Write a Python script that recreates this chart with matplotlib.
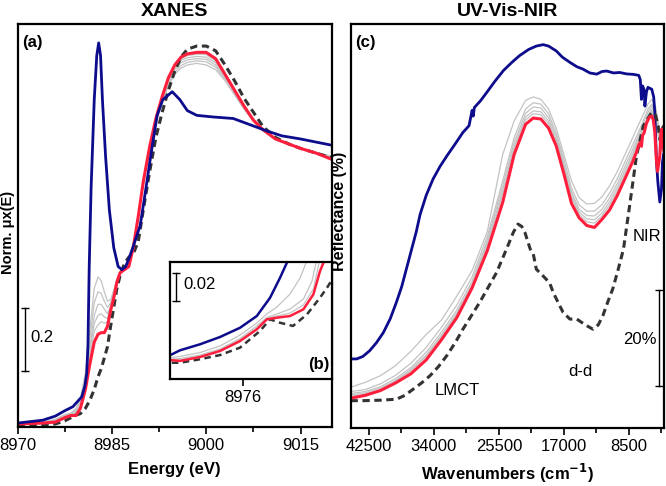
import matplotlib
matplotlib.use("Agg")
import matplotlib.pyplot as plt
from matplotlib.ticker import FixedLocator

plt.rcParams["font.family"] = ["Liberation Sans", "DejaVu Sans"]

BLUE = "#0c0c8c"
RED = "#ff1f3d"
GRAY = "#c3c3c3"
DARK = "#333333"

# ---- XANES, panel (a) ----
energy_blue = [8970, 8974, 8976, 8977.5, 8978.8, 8980.2, 8980.7, 8981.0, 8981.2,
               8981.4, 8981.7, 8982.2, 8982.6, 8982.9, 8983.2, 8983.5, 8984.0,
               8984.6, 8985.3, 8986.0, 8986.6, 8987.2, 8987.8, 8988.5, 8989.5,
               8990.2, 8991.4, 8992.2, 8993.1, 8994.6, 8995.8, 8997.0, 8998.5,
               9001, 9004.3, 9007, 9009.7, 9012, 9015, 9020]
mu_blue = [0.003, 0.012, 0.025, 0.042, 0.055, 0.086, 0.12, 0.16, 0.25,
           0.5, 0.75, 1.03, 1.17, 1.21, 1.17, 1.03, 0.85,
           0.68, 0.56, 0.50, 0.49, 0.50, 0.53, 0.57, 0.63,
           0.72, 0.88, 0.98, 1.03, 1.055, 1.03, 0.995, 0.98,
           0.975, 0.97, 0.95, 0.93, 0.915, 0.905, 0.885]

energy = [8970, 8974, 8976, 8977.5, 8978.5, 8979.3, 8980, 8980.8, 8981.5, 8982.2,
          8982.8, 8983.3, 8983.8, 8984.3, 8984.8, 8985.3, 8985.8, 8986.3, 8987,
          8987.7, 8988.4, 8989.2, 8990, 8991, 8992, 8993, 8994, 8995, 8996, 8997,
          8998.5, 9000, 9001.5, 9003, 9004.5, 9006, 9007.5, 9009, 9011, 9013,
          9015, 9017.5, 9020]
mu_red = [0.0, 0.003, 0.006, 0.02, 0.027, 0.027, 0.05, 0.11, 0.19, 0.26,
          0.285, 0.29, 0.29, 0.31, 0.36, 0.40, 0.45, 0.48, 0.49,
          0.50, 0.56, 0.66, 0.77, 0.88, 0.97, 1.04, 1.10, 1.14, 1.165, 1.175,
          1.18, 1.18, 1.16, 1.11, 1.06, 1.01, 0.965, 0.935, 0.905, 0.89,
          0.875, 0.86, 0.84]
mu_dashed = [-0.004, -0.003, 0.0, 0.01, 0.02, 0.028, 0.033, 0.05, 0.075, 0.11,
             0.15, 0.175, 0.21, 0.245, 0.31, 0.37, 0.43, 0.47, 0.51,
             0.53, 0.54, 0.58, 0.68, 0.80, 0.91, 0.99, 1.06, 1.12, 1.165, 1.19,
             1.2, 1.2, 1.185, 1.14, 1.09, 1.035, 0.99, 0.945, 0.91, 0.89,
             0.875, 0.86, 0.845]
mu_gray1 = [0.001, 0.006, 0.015, 0.03, 0.035, 0.05, 0.08, 0.165, 0.30, 0.43,
            0.467, 0.455, 0.42, 0.39, 0.395, 0.425, 0.46, 0.485, 0.50,
            0.515, 0.56, 0.655, 0.76, 0.87, 0.955, 1.02, 1.075, 1.11, 1.13, 1.14,
            1.145, 1.14, 1.125, 1.09, 1.045, 1.0, 0.96, 0.93, 0.905, 0.89,
            0.875, 0.862, 0.85]
mu_gray2 = [0.001, 0.005, 0.013, 0.028, 0.033, 0.045, 0.07, 0.15, 0.27, 0.385,
            0.42, 0.415, 0.39, 0.37, 0.385, 0.42, 0.457, 0.483, 0.497,
            0.51, 0.56, 0.657, 0.763, 0.873, 0.96, 1.025, 1.08, 1.117, 1.138, 1.148,
            1.153, 1.15, 1.133, 1.095, 1.05, 1.003, 0.962, 0.932, 0.905, 0.89,
            0.875, 0.861, 0.848]
mu_gray3 = [0.001, 0.005, 0.012, 0.026, 0.031, 0.04, 0.06, 0.135, 0.245, 0.345,
            0.38, 0.38, 0.365, 0.35, 0.375, 0.415, 0.455, 0.482, 0.495,
            0.507, 0.56, 0.658, 0.765, 0.875, 0.963, 1.03, 1.088, 1.125, 1.147, 1.156,
            1.16, 1.158, 1.14, 1.1, 1.053, 1.005, 0.963, 0.933, 0.905, 0.89,
            0.875, 0.86, 0.846]
mu_gray4 = [0.0, 0.004, 0.011, 0.024, 0.03, 0.035, 0.055, 0.13, 0.23, 0.32,
            0.345, 0.35, 0.34, 0.335, 0.37, 0.41, 0.455, 0.481, 0.493,
            0.504, 0.56, 0.659, 0.767, 0.877, 0.966, 1.034, 1.093, 1.132, 1.155, 1.163,
            1.167, 1.165, 1.147, 1.104, 1.056, 1.007, 0.964, 0.934, 0.905, 0.89,
            0.875, 0.86, 0.844]
mu_gray5 = [0.0, 0.004, 0.01, 0.022, 0.029, 0.032, 0.05, 0.12, 0.21, 0.295,
            0.315, 0.325, 0.32, 0.325, 0.365, 0.405, 0.452, 0.48, 0.492,
            0.502, 0.56, 0.66, 0.768, 0.878, 0.968, 1.037, 1.097, 1.137, 1.16, 1.17,
            1.174, 1.173, 1.153, 1.108, 1.058, 1.008, 0.965, 0.934, 0.905, 0.89,
            0.875, 0.86, 0.842]

# ---- inset (b), pre-edge zoom ----
inset_e_blue = [8972.44, 8972.85, 8973.85, 8974.85, 8975.85, 8976.69, 8977.35, 8977.85, 8978.19, 8978.4]
inset_blue = [0.0176, 0.0205, 0.0248, 0.0300, 0.0366, 0.045, 0.058, 0.0723, 0.083, 0.09]
inset_e_red = [8972.44, 8972.85, 8973.85, 8974.85, 8975.85, 8976.69, 8977.19, 8977.69,
               8978.35, 8979.02, 8979.52, 8979.85, 8980.02, 8980.2]
inset_red = [0.0134, 0.0129, 0.0157, 0.02, 0.0271, 0.0355, 0.0426, 0.0438,
             0.045, 0.0498, 0.0605, 0.0771, 0.083, 0.09]
inset_e_dashed = [8972.44, 8972.85, 8973.85, 8974.85, 8975.85, 8976.85, 8977.35, 8977.85,
                  8978.5, 8979.2, 8979.85, 8980.2, 8980.5]
inset_dashed = [0.0116, 0.0116, 0.0141, 0.0171, 0.0224, 0.0343, 0.0426, 0.0402,
                0.0379, 0.0462, 0.0581, 0.0652, 0.072]
inset_e_gray1 = [8972.44, 8972.85, 8973.85, 8974.85, 8975.85, 8976.69, 8977.19, 8977.69,
                 8978.35, 8978.85, 8979.15, 8979.3]
inset_gray1 = [0.0154, 0.0161, 0.0189, 0.0236, 0.0314, 0.04, 0.0464, 0.0514,
               0.0607, 0.0721, 0.0829, 0.09]
inset_e_gray2 = [8972.44, 8972.85, 8973.85, 8974.85, 8975.85, 8976.69, 8977.19, 8977.69,
                 8978.35, 8979.02, 8979.45, 8979.65, 8979.8]
inset_gray2 = [0.0143, 0.0146, 0.0171, 0.0214, 0.0289, 0.0379, 0.0439, 0.0464,
               0.05, 0.0571, 0.07, 0.0829, 0.09]
inset_e_gray3 = [8972.44, 8972.85, 8973.85, 8974.85, 8975.85, 8976.69, 8977.19, 8977.69,
                 8978.35, 8979.02, 8979.52, 8979.8, 8979.95]
inset_gray3 = [0.0137, 0.0136, 0.0164, 0.0207, 0.0279, 0.0364, 0.0432, 0.045,
               0.0471, 0.0529, 0.0643, 0.0829, 0.09]

# ---- UV-Vis-NIR, panel (c) ----
wn_blue = [44900, 44100, 43300, 42400, 41500, 40600, 39700, 38900, 38200, 37600,
           36900, 36300, 35800, 35000, 34100, 33200, 32300, 31300, 30200, 29400,
           29000, 28850, 28700, 27900, 27100, 26000, 24900, 23800, 22800, 21600,
           20600, 19700, 19000, 18000, 17200, 16200, 15300, 14500, 13600, 12700,
           12000, 11400, 10500, 9700, 8800, 7900, 7200, 7000, 6850, 6700,
           6500, 6400, 6200, 6000, 5500, 5250, 5100, 4880, 4700, 4450,
           4230, 4100, 3950]
r_blue = [14.4, 14.4, 14.9, 16.1, 17.8, 19.9, 22.8, 26.2, 29.5, 33.1,
          37.3, 40.9, 44.5, 48.5, 51.9, 54.5, 56.7, 59.0, 61.6, 63.0,
          66.2, 65.0, 66.8, 68.2, 69.9, 72.3, 74.5, 76.2, 77.6, 78.9,
          79.6, 79.9, 79.6, 78.6, 77.3, 76.2, 75.3, 74.8, 74.0, 73.75,
          74.3, 74.4, 74.0, 74.1, 73.8, 73.7, 73.5, 72.6, 68.5, 71.3,
          70.5, 67.1, 70.0, 71.0, 70.6, 69.0, 65.8, 55.4, 51.2, 47.1,
          49.8, 55.4, 57.0]
wn_red = [44900, 43000, 41000, 39000, 37000, 35000, 33000, 31000, 29000, 27000,
          25000, 23500, 22000, 21000, 20000, 19000, 18000, 17000, 16000, 15000,
          14000, 13000, 12000, 11000, 10000, 9000, 8000, 7500, 7200, 7000,
          6850, 6700, 6500, 6200, 5800, 5500, 5300, 5100, 4900, 4750,
          4600, 4450, 4300, 4200, 4100, 3950]
r_red = [6.2, 6.8, 7.8, 9.4, 11.3, 14.2, 18.4, 23.0, 29.2, 37.0,
         47.0, 57.0, 63.3, 64.6, 64.4, 62.5, 58.8, 53.0, 46.8, 43.8,
         42.2, 41.8, 43.5, 45.5, 48.5, 52.0, 55.5, 57.5, 59.0, 59.5,
         58.7, 61.0, 61.5, 63.5, 64.8, 65.0, 64.2, 61.6, 56.0, 53.5,
         55.0, 56.7, 61.5, 62.3, 59.6, 58.0]
wn_dashed = [44900, 43200, 41000, 38900, 37800, 36700, 35600, 34500, 33400, 32300,
             31200, 30200, 29100, 28000, 26900, 25800, 24500, 23600, 23000, 22500,
             22100, 21400, 21000, 20600, 19900, 19300, 18800, 18400, 17700, 17100,
             16200, 15300, 14200, 13200, 12500, 11900, 11200, 10600, 9900, 9200,
             8400, 7500, 6600, 5500, 5000, 4670, 4400, 4200, 3950]
r_dashed = [5.7, 5.7, 5.8, 6.0, 6.8, 8.1, 9.4, 10.9, 12.8, 15.1,
            17.8, 20.6, 23.4, 26.2, 29.3, 32.4, 37.3, 40.8, 42.5, 42.0,
            40.8, 37.3, 36.3, 33.1, 32.0, 31.0, 30.0, 28.3, 26.0, 24.1,
            22.7, 22.7, 21.5, 20.6, 21.5, 23.4, 26.5, 29.0, 33.0, 37.3,
            46.3, 56.7, 63.0, 65.8, 65.2, 63.0, 60.0, 62.0, 63.0]
wn_gray = [44900, 43000, 41000, 39000, 37000, 35000, 33000, 31000, 29000, 27000,
           25000, 23500, 22000, 21000, 20000, 19000, 18000, 17000, 16000, 15000,
           14000, 13000, 12000, 11000, 10000, 9000, 8000, 7000, 6000, 5500,
           5000, 4500, 4000]
r_gray1 = [8.5, 9.5, 10.9, 13.0, 16.0, 19.5, 22.5, 27.5, 32.8, 41.0,
           57.0, 64.0, 68.3, 69.0, 68.5, 66.5, 62.5, 57.0, 51.5, 48.0,
           46.7, 46.8, 48.2, 50.5, 53.5, 57.0, 60.5, 64.0, 67.5, 68.5,
           67.0, 62.0, 58.0]
r_gray2 = [7.6, 8.0, 9.2, 11.0, 13.5, 16.8, 21.0, 25.6, 31.5, 40.0,
           51.5, 60.5, 66.5, 67.8, 67.5, 65.5, 61.5, 56.0, 50.0, 46.5,
           45.2, 45.2, 46.6, 49.0, 52.0, 55.5, 59.0, 62.5, 66.5, 67.5,
           66.0, 61.0, 57.5]
r_gray3 = [7.2, 7.6, 8.6, 10.3, 12.6, 15.8, 20.0, 24.6, 30.6, 39.2,
           50.5, 59.5, 65.6, 66.9, 66.7, 64.7, 60.8, 55.2, 49.2, 45.6,
           44.3, 44.2, 45.6, 48.0, 51.0, 54.5, 58.0, 61.8, 65.8, 67.0,
           65.2, 60.5, 57.0]
r_gray4 = [6.9, 7.3, 8.3, 9.9, 12.2, 15.2, 19.4, 24.0, 30.0, 38.6,
           49.5, 58.7, 64.8, 66.1, 65.9, 64.0, 60.2, 54.6, 48.6, 45.0,
           43.6, 43.4, 44.8, 47.2, 50.2, 53.7, 57.2, 61.2, 65.2, 66.4,
           64.6, 60.0, 56.8]
r_gray5 = [6.6, 7.0, 8.0, 9.7, 11.9, 14.9, 19.0, 23.6, 29.6, 38.0,
           48.7, 58.0, 64.2, 65.5, 65.3, 63.4, 59.6, 54.0, 48.0, 44.5,
           43.0, 42.7, 44.2, 46.5, 49.5, 53.0, 56.5, 60.8, 64.8, 66.0,
           64.0, 59.5, 56.5]

xanes_ticks = [8970, 8985, 9000, 9015]
uv_ticks = [42500, 34000, 25500, 17000, 8500]


def style_axis(ax, major, minor):
    ax.xaxis.set_major_locator(FixedLocator(major))
    ax.xaxis.set_minor_locator(FixedLocator(minor))
    ax.set_yticks([])
    ax.tick_params(axis="x", which="major", direction="out", length=5, width=1.2,
                   labelsize=12, pad=3)
    ax.tick_params(axis="x", which="minor", direction="out", length=3.5, width=1.2)
    for spine in ax.spines.values():
        spine.set_linewidth(1.6)


def scale_bar(ax, x, y0, y1):
    ax.plot([x, x], [y0, y1], color="k", lw=1.0)
    ax.plot([x], [y0], marker="_", ms=6, mew=1.0, color="k")
    ax.plot([x], [y1], marker="_", ms=6, mew=1.0, color="k")


def xanes_panel(fig):
    ax = fig.add_axes([0.0263, 0.1214, 0.4722, 0.8292])
    for g in [mu_gray1, mu_gray2, mu_gray3, mu_gray4, mu_gray5]:
        ax.plot(energy, g, color=GRAY, lw=0.9)
    ax.plot(energy, mu_dashed, color=DARK, lw=2.2, dashes=(2.4, 1.5))
    ax.plot(energy, mu_red, color=RED, lw=2.2)
    ax.plot(energy_blue, mu_blue, color=BLUE, lw=2.0)
    ax.set_xlim(8970, 9020)
    ax.set_ylim(-0.0095, 1.27)
    style_axis(ax, xanes_ticks, [8977.5, 8992.5, 9007.5])
    ax.set_title("XANES", fontsize=14, fontweight="bold", pad=6)
    ax.set_xlabel("Energy (eV)", fontsize=12, fontweight="bold")
    ax.xaxis.set_label_coords(0.5, -0.088)
    ax.set_ylabel("Norm. \u03bcx(E)", fontsize=10.5, fontweight="bold")
    ax.yaxis.set_label_coords(-0.008, 0.484)
    scale_bar(ax, 8971.2, 0.168, 0.368)
    ax.text(0.04, 0.221, "0.2", transform=ax.transAxes, fontsize=12, va="center")
    ax.text(0.014, 0.955, "(a)", transform=ax.transAxes, fontsize=12,
            fontweight="bold", va="center")

    ins = fig.add_axes([0.2553, 0.2202, 0.2432, 0.2407])
    for e, g in [(inset_e_gray1, inset_gray1), (inset_e_gray2, inset_gray2),
                 (inset_e_gray3, inset_gray3)]:
        ins.plot(e, g, color=GRAY, lw=0.9)
    ins.plot(inset_e_dashed, inset_dashed, color=DARK, lw=1.8, dashes=(2.6, 1.8))
    ins.plot(inset_e_red, inset_red, color=RED, lw=1.8)
    ins.plot(inset_e_blue, inset_blue, color=BLUE, lw=1.8)
    ins.set_xlim(8972.35, 8980.45)
    ins.set_ylim(0, 0.0836)
    style_axis(ins, [8976], [])
    scale_bar(ins, 8972.65, 0.0557, 0.0757)
    ins.text(0.08, 0.81, "0.02", transform=ins.transAxes, fontsize=12, va="center")
    ins.text(0.985, 0.12, "(b)", transform=ins.transAxes, fontsize=12,
             fontweight="bold", va="center", ha="right")


def uv_panel(fig):
    ax = fig.add_axes([0.5263, 0.1193, 0.4707, 0.8313])
    for g in [r_gray1, r_gray2, r_gray3, r_gray4, r_gray5]:
        ax.plot(wn_gray, g, color=GRAY, lw=0.9)
    ax.plot(wn_blue, r_blue, color=BLUE, lw=2.0)
    ax.plot(wn_dashed, r_dashed, color=DARK, lw=2.2, dashes=(2.4, 1.5))
    ax.plot(wn_red, r_red, color=RED, lw=2.2)
    ax.set_xlim(44900, 3900)
    ax.set_ylim(0, 84.2)
    style_axis(ax, uv_ticks, [38250, 29750, 21250, 12750, 4250])
    ax.set_title("UV-Vis-NIR", fontsize=14, fontweight="bold", pad=6)
    ax.set_xlabel("Wavenumbers (cm$^{\\mathbf{-1}}$)", fontsize=12, fontweight="bold")
    ax.xaxis.set_label_coords(0.5, -0.083)
    ax.set_ylabel("Reflectance (%)", fontsize=11.5, fontweight="bold")
    ax.yaxis.set_label_coords(-0.011, 0.535)
    scale_bar(ax, 4577, 8.75, 28.75)
    ax.text(0.975, 0.22, "20%", transform=ax.transAxes, fontsize=12,
            va="center", ha="right")
    ax.text(0.944, 0.475, "NIR", transform=ax.transAxes, fontsize=12,
            va="center", ha="center")
    ax.text(0.732, 0.14, "d-d", transform=ax.transAxes, fontsize=12,
            va="center", ha="center")
    ax.text(0.341, 0.093, "LMCT", transform=ax.transAxes, fontsize=12,
            va="center", ha="center")
    ax.text(0.014, 0.955, "(c)", transform=ax.transAxes, fontsize=12,
            fontweight="bold", va="center")


def main():
    fig = plt.figure(figsize=(6.66, 4.86), dpi=100)
    xanes_panel(fig)
    uv_panel(fig)
    fig.savefig("out.png", dpi=100)
    plt.close(fig)


main()
